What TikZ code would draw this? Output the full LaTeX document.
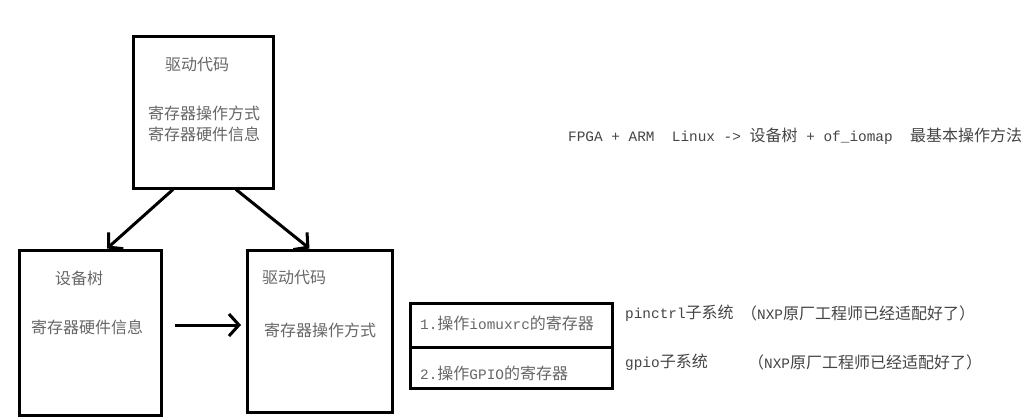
\documentclass[tikz,border=0pt]{standalone}
\usepackage{fontspec}
\setmainfont{Noto Sans CJK SC}
\newfontfamily\lat[Scale=0.9]{Liberation Mono}
\usepackage{xcolor}
\usepackage{tikz}
\usetikzlibrary{positioning,arrows.meta,calc}

\definecolor{boxtext}{HTML}{666666}
\definecolor{sidetext}{HTML}{444444}

\begin{document}
\begin{tikzpicture}[
    x=1pt, y=-1pt,
    regbox/.style={rectangle, draw, line width=3pt, inner sep=0pt},
    intext/.style={anchor=west, inner sep=0pt, text=boxtext, font=\fontsize{16}{20}\selectfont},
    outtext/.style={anchor=west, inner sep=0pt, text=sidetext, font=\fontsize{16}{20}\selectfont},
    arrow/.style={-{Straight Barb[length=10pt,width=22pt]}, line width=3pt}
]
\useasboundingbox (0,0) rectangle (1030,420);

% boxes
\node[regbox, minimum width=140pt, minimum height=151pt] (drv) at (203,112.5) {};
\node[regbox, minimum width=142pt, minimum height=165pt] (dts) at (90,332.5) {};
\node[regbox, minimum width=145pt, minimum height=162pt] (drvop) at (319.5,331) {};
\node[regbox, minimum width=202pt, minimum height=44pt] (iomux) at (511,325) {};
\node[regbox, minimum width=202pt, minimum height=41pt] (gpio) at (511,367.5) {};

% texts in boxes
\node[intext] (drvtitle) at (165,65) {驱动代码};
\node[intext] (drvop1) at (148,113) {寄存器操作方式};
\node[intext] (drvhw1) at (148,134) {寄存器硬件信息};
\node[intext] (dtstitle) at (55,278) {设备树};
\node[intext] (dtshw) at (31,327) {寄存器硬件信息};
\node[intext] (optitle) at (262,278) {驱动代码};
\node[intext] (opway) at (264,330) {寄存器操作方式};
\node[intext] (iomuxtxt) at (420,323) {{\lat 1.}操作{\lat iomuxrc}的寄存器};
\node[intext] (gpiotxt) at (420,373) {{\lat 2.}操作{\lat GPIO}的寄存器};

% side notes
\node[outtext] (fpga) at (568,136) {{\lat FPGA + ARM\ \ Linux -> }设备树{\lat\ + of\_iomap\ \ }最基本操作方法};
\node[outtext] (pinctrl) at (625,313) {{\lat pinctrl}子系统};
\node[outtext] (pinnxp) at (741,313) {（{\lat NXP}原厂工程师已经适配好了）};
\node[outtext] (gpiosys) at (625,362) {{\lat gpio}子系统};
\node[outtext] (gpionxp) at (748,362) {（{\lat NXP}原厂工程师已经适配好了）};

\coordinate (hstart) at (175,325);
\coordinate (hend) at (241,325);

\draw[arrow] ([xshift=-30pt]drv.south) -- ([xshift=17pt]dts.north);
\draw[arrow] ([xshift=33pt]drv.south) -- ([xshift=-10pt]drvop.north);
\draw[arrow] (hstart) -- (hend);

\end{tikzpicture}
\end{document}
